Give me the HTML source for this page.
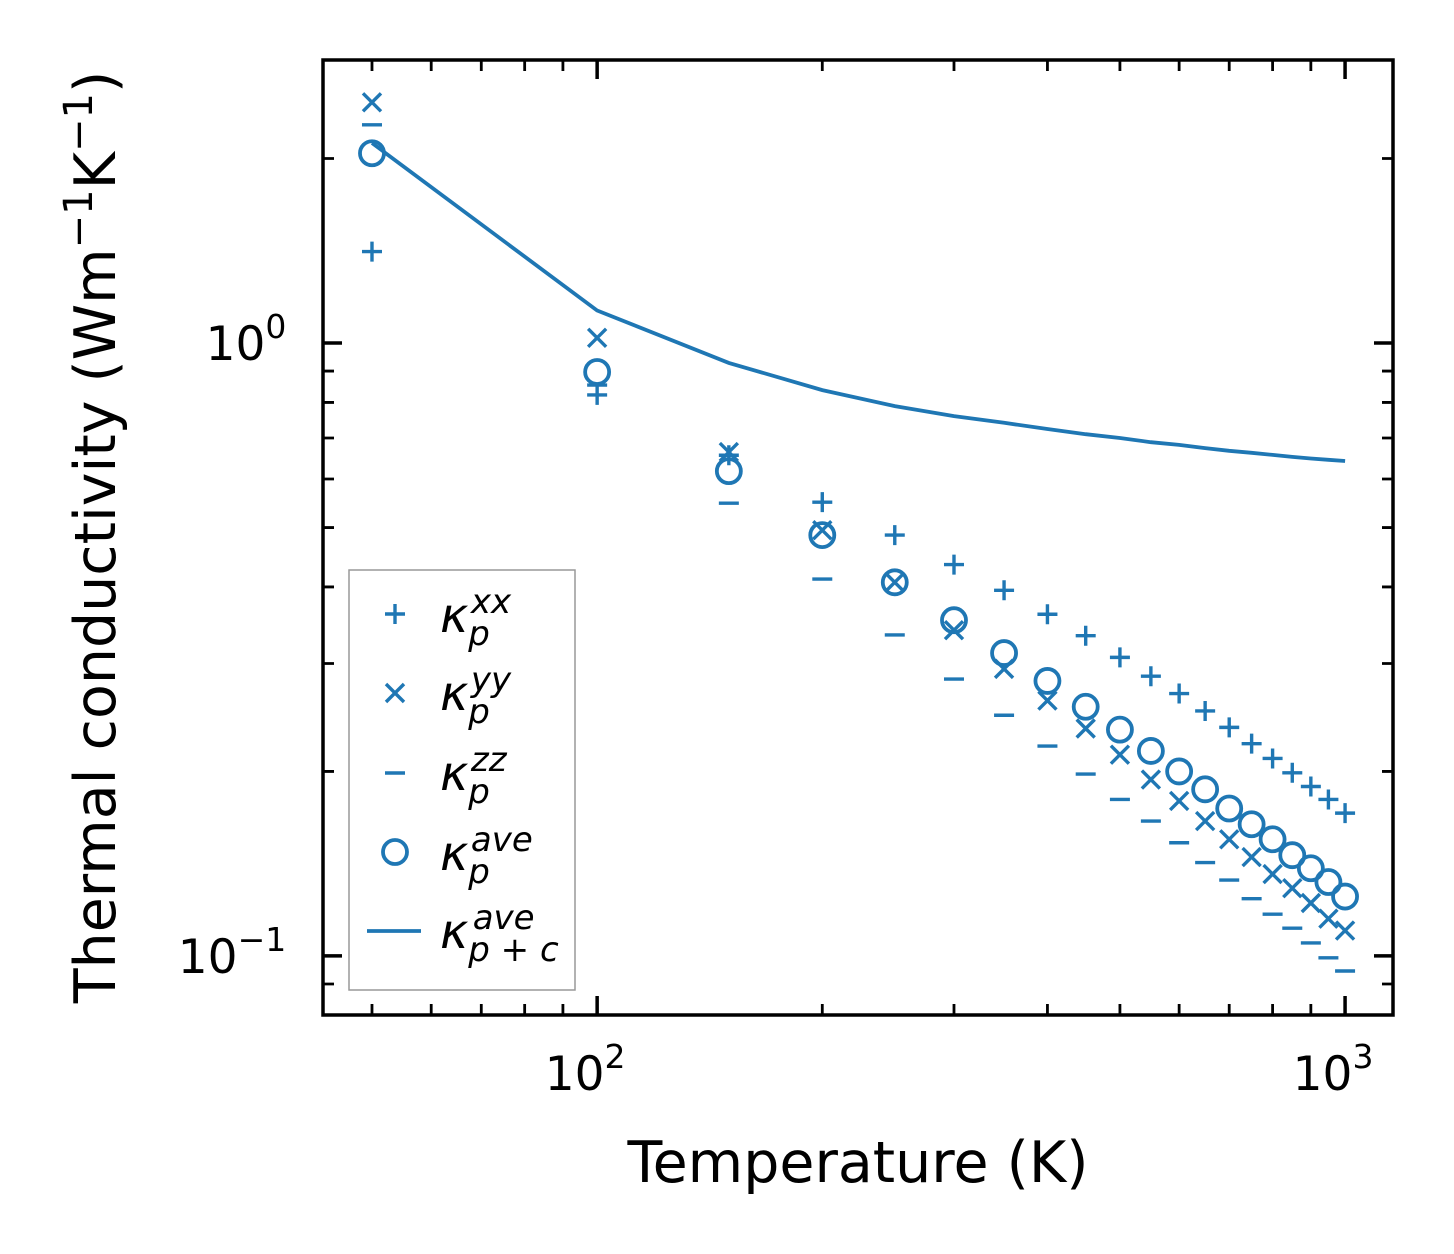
<!DOCTYPE html>
<html><head><meta charset="utf-8"><style>
html,body{margin:0;padding:0;background:#fff;}
svg{display:block;font-family:"DejaVu Sans","Liberation Sans",sans-serif;}
</style></head><body>
<svg id="chart" width="1454" height="1254" viewBox="0 0 1454 1254" xmlns="http://www.w3.org/2000/svg">
<rect x="0" y="0" width="1454" height="1254" fill="#fff"/>
<g id="marks"></g>
<g id="axes"></g>
<text x="858" y="1182" font-size="57" text-anchor="middle">Temperature (K)</text>
<text transform="translate(115,537) rotate(-90)" font-size="57" text-anchor="middle">Thermal conductivity (Wm<tspan dy="-23" font-size="40">−1</tspan><tspan dy="23">K</tspan><tspan dy="-23" font-size="40">−1</tspan><tspan dy="23">)</tspan></text>
<g>
<rect x="349" y="570" width="226" height="420" fill="#fff" stroke="#999" stroke-width="1.5"/>
<g stroke="#1f77b4" stroke-width="3.4" fill="none">
<path d="M385 614h20M395 604v20"/>
<path d="M386 684l18 18M404 684l-18 18"/>
<path d="M385 773h20"/>
<circle cx="395" cy="852" r="12" stroke-width="3.8"/>
<path d="M367 931h54" stroke-width="3.8"/>
</g>
<g font-size="48" font-style="italic">
<text x="440" y="632">κ<tspan dy="13" font-size="34">p</tspan><tspan dx="-19" dy="-32" font-size="34">xx</tspan></text>
<text x="440" y="710">κ<tspan dy="13" font-size="34">p</tspan><tspan dx="-19" dy="-32" font-size="34">yy</tspan></text>
<text x="440" y="790">κ<tspan dy="13" font-size="34">p</tspan><tspan dx="-19" dy="-32" font-size="34">zz</tspan></text>
<text x="440" y="870">κ<tspan dy="13" font-size="34">p</tspan><tspan dx="-19" dy="-32" font-size="34">ave</tspan></text>
<text x="440" y="948">κ<tspan dy="13" font-size="34">p + c</tspan><tspan dx="-86" dy="-32" font-size="34">ave</tspan></text>
</g>
</g>
</svg>
<script>
const temps=[50,100,150,200,250,300,350,400,450,500,550,600,650,700,750,800,850,900,950,1000];
const kappaXX=[1.41,0.823,0.656,0.550,0.486,0.435,0.395,0.361,0.333,0.307,0.286,0.268,0.251,0.236,0.222,0.210,0.199,0.189,0.180,0.171];
const kappaYY=[2.47,1.02,0.664,0.495,0.407,0.340,0.294,0.261,0.235,0.213,0.194,0.179,0.166,0.155,0.145,0.136,0.129,0.122,0.115,0.110];
const kappaZZ=[2.27,0.854,0.548,0.412,0.334,0.283,0.247,0.220,0.198,0.180,0.166,0.153,0.142,0.133,0.124,0.117,0.111,0.105,0.0993,0.0945];
const kappaAve=[2.04,0.897,0.618,0.486,0.407,0.353,0.312,0.281,0.255,0.234,0.216,0.200,0.187,0.174,0.164,0.155,0.146,0.139,0.132,0.125];
const kappaTotal=[2.12,1.13,0.928,0.838,0.789,0.760,0.741,0.724,0.710,0.700,0.689,0.682,0.674,0.667,0.662,0.657,0.652,0.648,0.645,0.642];
const xMajor=[100,1000];
const xMajorLabels=["10","10"];
const xMajorExp=["2","3"];
const yMajor=[0.1,1];
const yMajorExp=["−1","0"];

const NS="http://www.w3.org/2000/svg";
const L=323,R=1393,T=60,B=1015;
const xmin=Math.log10(43.0),xmax=Math.log10(1159);
const ymin=Math.log10(0.0801),ymax=Math.log10(2.896);
const xs=v=>L+(Math.log10(v)-xmin)/(xmax-xmin)*(R-L);
const ys=v=>B-(Math.log10(v)-ymin)/(ymax-ymin)*(B-T);
const C="#1f77b4";
const marks=document.getElementById('marks'),axes=document.getElementById('axes');
function mk(tag,attrs,parent){const e=document.createElementNS(NS,tag);for(const k in attrs)e.setAttribute(k,attrs[k]);parent.appendChild(e);return e;}

let d=temps.map((t,i)=>(i?'L':'M')+xs(t).toFixed(1)+' '+ys(kappaTotal[i]).toFixed(1)).join(' ');
const line=mk('path',{d:d,fill:'none',stroke:C,'stroke-width':3.8},marks);



temps.forEach((t,i)=>{
  const x=xs(t);
  let y=ys(kappaXX[i]);
  const p=mk('path',{d:`M${x-10} ${y}h20M${x} ${y-10}v20`,stroke:C,'stroke-width':3.4,fill:'none'},marks);
  
  
  y=ys(kappaYY[i]);
  const q=mk('path',{d:`M${x-9} ${y-9}l18 18M${x+9} ${y-9}l-18 18`,stroke:C,'stroke-width':3.4,fill:'none'},marks);
  
  
  y=ys(kappaZZ[i]);
  const r=mk('path',{d:`M${x-10} ${y}h20`,stroke:C,'stroke-width':3.4,fill:'none'},marks);
  
  
  y=ys(kappaAve[i]);
  const c=mk('circle',{cx:x,cy:y,r:12,stroke:C,'stroke-width':3.8,fill:'none'},marks);
  
  
});

const fr=mk('rect',{x:L,y:T,width:R-L,height:B-T,fill:'none',stroke:'#000','stroke-width':3.5},axes);


const xMinor=[50,60,70,80,90,200,300,400,500,600,700,800,900];
xMinor.forEach(v=>{const x=xs(v);mk('path',{d:`M${x} ${B}v-11M${x} ${T}v11`,stroke:'#000','stroke-width':2.8},axes);});
xMajor.forEach((v,i)=>{const x=xs(v);mk('path',{d:`M${x} ${B}v-19M${x} ${T}v19`,stroke:'#000','stroke-width':3.5},axes);
  const t=mk('text',{x:x-12,y:1090,'font-size':47,'text-anchor':'middle'},axes);
  
  
  t.innerHTML=xMajorLabels[i]+`<tspan dy="-22" font-size="33">${xMajorExp[i]}</tspan>`;});
const yMinor=[0.09,0.2,0.3,0.4,0.5,0.6,0.7,0.8,0.9,2];
yMinor.forEach(v=>{const y=ys(v);mk('path',{d:`M${L} ${y}h11M${R} ${y}h-11`,stroke:'#000','stroke-width':2.8},axes);});
yMajor.forEach((v,i)=>{const y=ys(v);mk('path',{d:`M${L} ${y}h19M${R} ${y}h-19`,stroke:'#000','stroke-width':3.5},axes);
  const t=mk('text',{x:i?246:232,y:y+17,'font-size':47,'text-anchor':'middle'},axes);
  
  
  t.innerHTML=`10<tspan dy="-22" font-size="33">${yMajorExp[i]}</tspan>`;});
</script>
</body></html>
